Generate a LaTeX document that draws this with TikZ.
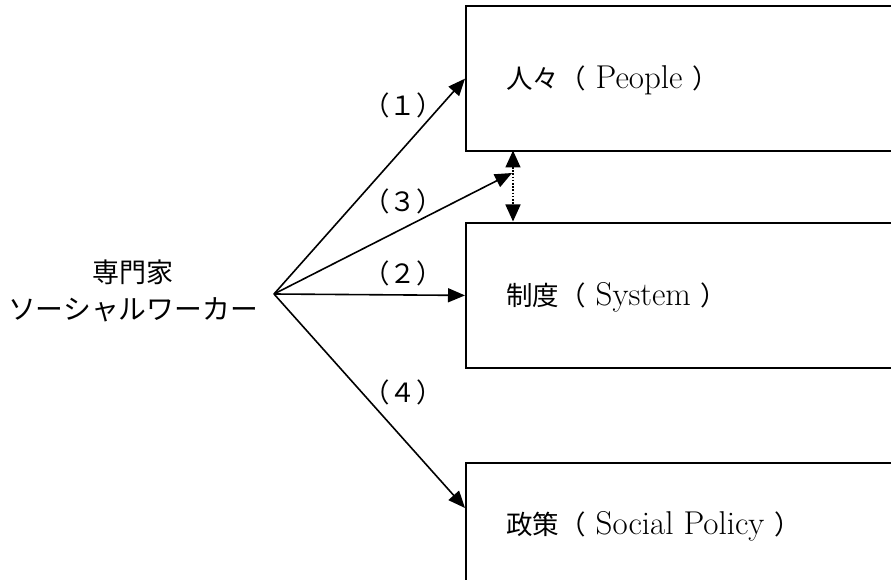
\documentclass[tikz,border=0pt]{standalone}
\usepackage{fontspec}
\newfontfamily\cjk{Noto Sans CJK JP}
\usetikzlibrary{arrows.meta}
\newcommand{\latn}[1]{{\fontsize{33}{36}\selectfont #1}}
\tikzset{
  box/.style={draw, line width=1.8pt, rectangle, anchor=north west, inner sep=0pt},
  boxtext/.style={anchor=west, inner sep=0pt, font=\fontsize{26.5}{30}\selectfont},
  lbl/.style={inner sep=0pt, font=\fontsize{27}{31}\selectfont\cjk},
  arr/.style={line width=1.6pt, -{Triangle[length=17pt,width=14pt]}},
  dblarr/.style={line width=1.6pt, dash pattern=on 1.6pt off 1.6pt, {Triangle[length=17pt,width=15pt]}-{Triangle[length=17pt,width=15pt]}}
}
\begin{document}
\begin{tikzpicture}[x=1pt,y=-1pt]
\useasboundingbox (0,0) rectangle (891,580);
\clip (0,0) rectangle (891,580);
\fill[white] (0,0) rectangle (891,580);
% boxes
\node[box, minimum width=460pt, minimum height=144.5pt] (box1) at (465,5.5) {};
\node[box, minimum width=460pt, minimum height=145pt] (box2) at (465,222) {};
\node[box, minimum width=460pt, minimum height=160pt] (box3) at (465,462) {};
% box texts
\node[boxtext] (t1) at (506,80) {{\cjk 人々（}\latn{\ People\ }{\cjk ）}};
\node[boxtext] (t2) at (506,297) {{\cjk 制度（}\latn{\ System\ }{\cjk ）}};
\node[boxtext] (t3) at (506,526) {{\cjk 政策（}\latn{\ Social Policy\ }{\cjk ）}};
% left text
\node[lbl] (expert) at (133,272) {専門家};
\node[lbl, font=\fontsize{27.8}{31}\selectfont\cjk] (sw) at (133,310) {ソーシャルワーカー};
% origin and targets
\coordinate (o) at (274,294);
\coordinate (c3) at (512,173);
\coordinate (c4) at (465,508);
\coordinate (d1) at (513,150.5);
\coordinate (d2) at (513,221.5);
% arrows
\draw[arr] (o) -- (box1.west);
\draw[arr] (o) -- (box2.west);
\draw[arr] (o) -- (c3);
\draw[arr] (o) -- (c4);
\draw[dblarr] (d1) -- (d2);
% labels
\node[lbl, font=\fontsize{26.5}{30}\selectfont\cjk] (l1) at (403,105) {（１）};
\node[lbl, font=\fontsize{26.5}{30}\selectfont\cjk] (l3) at (403,201) {（３）};
\node[lbl, font=\fontsize{26.5}{30}\selectfont\cjk] (l2) at (403,273) {（２）};
\node[lbl, font=\fontsize{26.5}{30}\selectfont\cjk] (l4) at (403,392) {（４）};
\end{tikzpicture}
\end{document}
